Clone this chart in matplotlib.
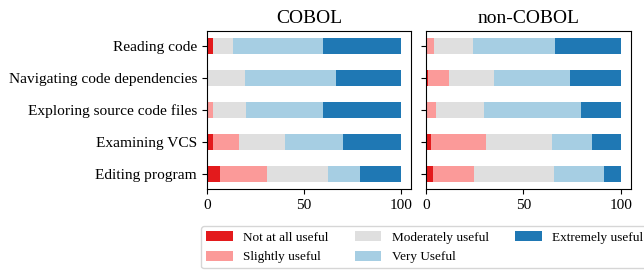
import matplotlib
matplotlib.use("Agg")
import matplotlib.pyplot as plt
import numpy as np

plt.rcParams['font.family'] = ['Liberation Serif', 'DejaVu Serif']

tasks = ["Reading code", "Navigating code dependencies", "Exploring source code files",
         "Examining VCS", "Editing program"]
levels = ["Not at all useful", "Slightly useful", "Moderately useful", "Very Useful", "Extremely useful"]
colors = ["#e31a1c", "#fb9a99", "#dfdfdf", "#a6cee3", "#1f78b4"]

# percentages per task, columns follow `levels`
cobol = [
    [3.3, 0.0, 10.0, 46.7, 40.0],
    [0.0, 0.0, 19.5, 46.7, 33.8],
    [0.0, 3.3, 16.7, 40.0, 40.0],
    [3.3, 13.3, 23.4, 30.0, 30.0],
    [6.7, 24.1, 31.3, 16.9, 21.0],
]
non_cobol = [
    [0.0, 4.1, 20.0, 42.1, 33.8],
    [1.0, 10.8, 23.1, 39.0, 26.1],
    [0.0, 5.1, 24.6, 49.8, 20.5],
    [2.6, 28.2, 33.8, 20.5, 14.9],
    [3.6, 21.0, 41.0, 25.6, 8.8],
]
titles = ["COBOL", "non-COBOL"]

W, H = 644, 270
fig = plt.figure(figsize=(W / 100, H / 100), dpi=100)
ax1 = fig.add_axes([206.7 / W, (H - 189) / H, (411 - 206.7) / W, 158 / H])
ax2 = fig.add_axes([425.7 / W, (H - 189) / H, (631 - 425.7) / W, 158 / H])

y = np.arange(len(tasks))[::-1]
for ax, data, title in zip([ax1, ax2], [cobol, non_cobol], titles):
    arr = np.array(data)
    left = np.zeros(len(tasks))
    for j, (lev, col) in enumerate(zip(levels, colors)):
        ax.barh(y, arr[:, j], left=left, height=0.5, color=col, label=lev)
        left += arr[:, j]
    ax.set_title(title, fontsize=14)
    ax.set_xticks([0, 50, 100])
    ax.tick_params(labelsize=11)
    ax.set_yticks(y)
    ax.set_xlim(0, 105)

ax1.set_yticklabels(tasks, fontsize=11.1)
ax2.set_yticklabels([])

handles, labels = ax1.get_legend_handles_labels()
fig.legend(handles, labels, loc='upper left', bbox_to_anchor=(201 / W, 1 - 226 / H),
           ncol=3, fontsize=9.5, frameon=True, handlelength=2.0, handleheight=0.8,
           handletextpad=0.8, columnspacing=2.0, borderaxespad=0)

fig.savefig("out.png", dpi=100)
